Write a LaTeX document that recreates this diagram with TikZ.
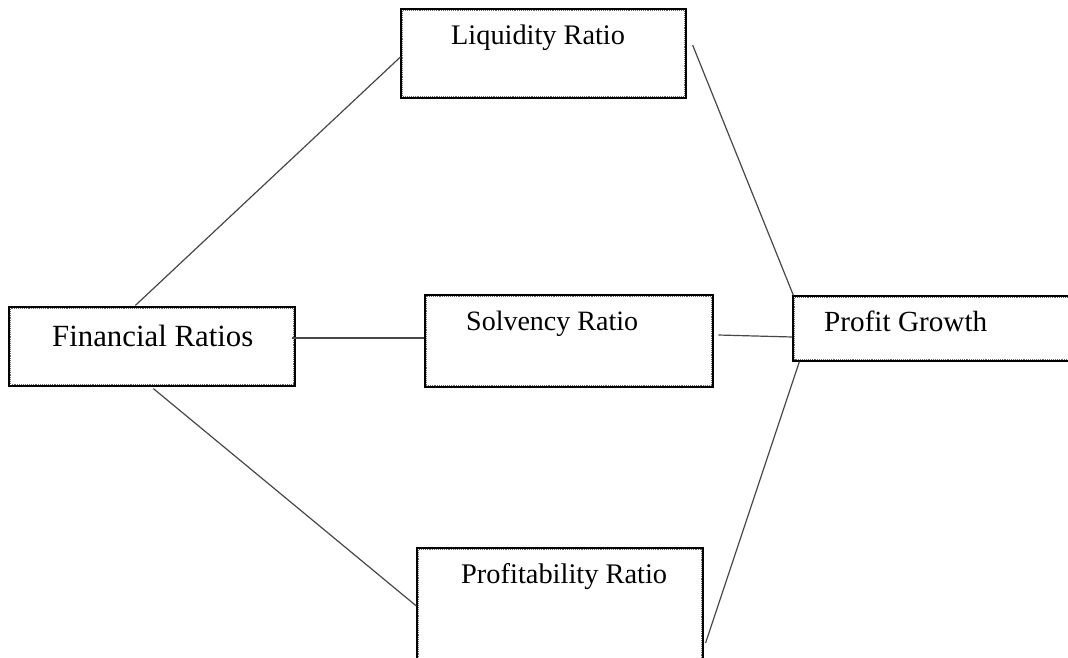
\documentclass[tikz,border=0pt]{standalone}
\usepackage{fontspec}
\setmainfont{Liberation Serif}
\usetikzlibrary{calc}
\tikzset{
  box/.style={draw=black, line width=1.2pt, inner sep=0pt, fill=white},
  thickbox/.style={box, line width=2.6pt},
  innerline/.style={draw=black!60, line width=0.9pt, densely dotted},
  lbl/.style={inner sep=0pt, anchor=base west, text=black},
  conn/.style={draw=black!72, line width=1.2pt},
}
\begin{document}
\begin{tikzpicture}[x=1pt, y=-1pt]
\useasboundingbox (0,0) rectangle (1068,657);
\clip (0,0) rectangle (1068,657);
\fill[white] (0,0) rectangle (1068,657);
% boxes
\node[box, minimum width=285pt, minimum height=89pt] (liq) at (543.5,53.5) {};
\node[box, minimum width=286pt, minimum height=79pt] (fin) at (152,346.5) {};
\node[thickbox, minimum width=288pt, minimum height=92pt] (solv) at (569,341) {};
\node[box, minimum width=307pt, minimum height=65pt] (pg) at (946.5,328.5) {};
\node[box, minimum width=286pt, minimum height=142pt] (prof) at (560,619) {};
\foreach \n in {liq,fin,solv,pg,prof}
  \draw[innerline] ([shift={(2.5,2.5)}]\n.north west) rectangle ([shift={(-2.5,-2.5)}]\n.south east);
% labels
\node[lbl, font=\fontsize{28.3}{34}\selectfont] (tliq) at (451,44) {Liquidity Ratio};
\node[lbl, font=\fontsize{30.8}{37}\selectfont] (tfin) at (52,346) {Financial Ratios};
\node[lbl, font=\fontsize{28}{34}\selectfont] (tsolv) at (466,330) {Solvency Ratio};
\node[lbl, font=\fontsize{29.2}{35}\selectfont] (tpg) at (824,331.5) {Profit Growth};
\node[lbl, font=\fontsize{28.4}{34}\selectfont] (tprof) at (461,583) {Profitability Ratio};
% connectors
\draw[conn] ($(fin.north west)+(127,-1)$) -- ($(liq.west)+(0,3.5)$);
\draw[conn] ($(fin.south west)+(145,2)$) -- ($(prof.west)+(0,-13)$);
\draw[conn] ($(fin.east)+(-4,-8.5)$) -- ($(solv.west)+(0,-3)$);
\draw[conn] ($(solv.east)+(4,-6)$) -- ($(pg.west)+(0,8.5)$);
\draw[conn] ($(liq.east)+(6,-8.5)$) -- ($(pg.north west)+(1,0)$);
\draw[conn] ($(prof.east)+(2,24)$) -- ($(pg.south west)+(7,0)$);
\end{tikzpicture}
\end{document}
